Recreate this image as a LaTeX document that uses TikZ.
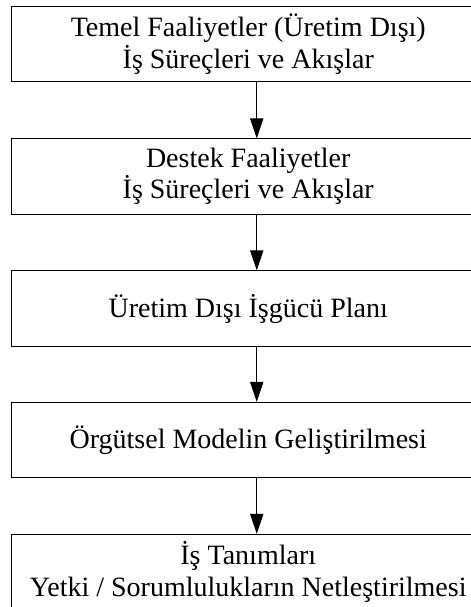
\documentclass[tikz,border=0pt]{standalone}
\usepackage{fontspec}
\setmainfont{Liberation Serif}
\usetikzlibrary{arrows.meta}
\begin{document}
\begin{tikzpicture}[x=0.75pt,y=-0.75pt,
  stepbox/.style={draw=black, line width=0.8pt, fill=white, rectangle,
    minimum width=355.1pt, minimum height=56.5pt, inner sep=0pt,
    align=center, font=\fontsize{21}{23.5}\selectfont},
  arr/.style={draw=black, line width=0.8pt, -{Triangle[length=15pt,width=10pt]}}]
\useasboundingbox (0,0) rectangle (471,607);
\clip (0,0) rectangle (471,607);
\coordinate (ax) at (256.75,0);
\node[stepbox] (a) at (248.25,44) {Temel Faaliyetler (Üretim Dışı)\\İş Süreçleri ve Akışlar};
\node[stepbox] (b) at (248.25,176.5) {Destek Faaliyetler\\İş Süreçleri ve Akışlar};
\node[stepbox] (c) at (248.25,308.5) {Üretim Dışı İşgücü Planı};
\node[stepbox] (d) at (248.25,440) {Örgütsel Modelin Geliştirilmesi};
\node[stepbox] (e) at (248.25,572) {İş Tanımları\\Yetki / Sorumlulukların Netleştirilmesi};
\draw[arr] (a.south -| ax) -- (b.north -| ax);
\draw[arr] (b.south -| ax) -- (c.north -| ax);
\draw[arr] (c.south -| ax) -- (d.north -| ax);
\draw[arr] (d.south -| ax) -- (e.north -| ax);
\end{tikzpicture}
\end{document}
